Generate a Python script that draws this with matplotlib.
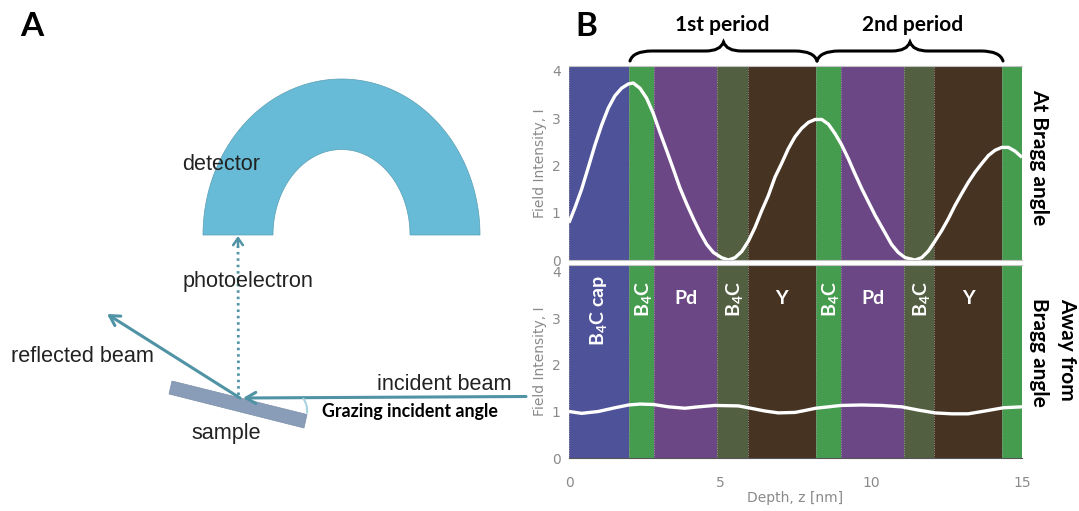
import numpy as np
import matplotlib
matplotlib.use("Agg")
import matplotlib.pyplot as plt
from matplotlib.patches import PathPatch, Polygon, FancyArrowPatch
from matplotlib.path import Path

# ---- data -----------------------------------------------------------
layer_edges = [0, 1.99, 2.81, 4.91, 5.93, 8.17, 9.0, 11.1, 12.1, 14.35, 15]
layer_colors = ["#4E5299", "#459C4F", "#6C4785", "#525F40", "#463322",
                "#459C4F", "#6C4785", "#525F40", "#463322", "#459C4F"]
layer_names = [r"$\mathregular{B_4C}$ cap", r"$\mathregular{B_4C}$", "Pd", r"$\mathregular{B_4C}$", "Y",
               r"$\mathregular{B_4C}$", "Pd", r"$\mathregular{B_4C}$", "Y", ""]

depth_bragg = [0, .2, .42, .64, .86, 1.08, 1.30, 1.52, 1.74, 1.96, 2.13, 2.35, 2.57, 2.79, 3.01, 3.23, 3.45,
               3.67, 3.90, 4.12, 4.34, 4.56, 4.78, 5.05, 5.28, 5.5, 5.72, 5.94, 6.16, 6.38, 6.6, 6.82, 7.04,
               7.26, 7.48, 7.7, 7.93, 8.15, 8.37, 8.59, 8.81, 9.03, 9.25, 9.47, 9.7, 9.92, 10.14, 10.46,
               10.68, 10.9, 11.13, 11.46, 11.68, 11.9, 12.12, 12.34, 12.56, 12.78, 13.0, 13.22, 13.45, 13.67,
               13.89, 14.11, 14.33, 14.55, 14.77, 15.0]
field_bragg = [.79, 1.11, 1.50, 1.96, 2.43, 2.85, 3.21, 3.47, 3.63, 3.72, 3.74, 3.63, 3.42, 3.10, 2.70, 2.32, 1.93,
               1.53, 1.18, .87, .58, .33, .16, .05, 0, .05, .18, .4, .69, 1.04, 1.36, 1.75, 2.04,
               2.35, 2.6, 2.78, 2.91, 2.97, 2.97, 2.87, 2.67, 2.43, 2.14, 1.82, 1.5, 1.22, .94, .58,
               .33, .16, .05, 0, .05, .19, .4, .62, .87, 1.15, 1.40, 1.64, 1.86, 2.04,
               2.21, 2.32, 2.38, 2.38, 2.3, 2.17]

depth_away = [0, .42, .97, 1.52, 1.97, 2.35, 2.8, 3.29, 3.84, 4.28, 4.83, 5.61, 5.94, 6.49, 6.93, 7.48, 7.8,
              8.17, 8.59, 9.0, 9.69, 10.35, 11.02, 11.57, 12.12, 12.67, 13.22, 13.77, 14.38, 15]
field_away = [1.0, .96, 1.0, 1.08, 1.14, 1.16, 1.15, 1.10, 1.07, 1.10, 1.13, 1.12, 1.08, 1.01, .97, .98, 1.02,
              1.07, 1.10, 1.13, 1.14, 1.13, 1.10, 1.03, .97, .95, .95, 1.01, 1.08, 1.10]

x_ticks = [0, 5, 10, 15]
y_ticks = [0, 1, 2, 3, 4]

# ---- figure ---------------------------------------------------------
W, H = 1079, 511
fig = plt.figure(figsize=(W / 100, H / 100), dpi=100)
bg = fig.add_axes([0, 0, 1, 1])
bg.set_xlim(0, W)
bg.set_ylim(H, 0)
bg.axis("off")

ARIAL = "Liberation Sans"
CAL = "Lato"
GREY = "#8a8a8a"
plt.rcParams["mathtext.fontset"] = "custom"
plt.rcParams["mathtext.rm"] = "Lato:bold"
plt.rcParams["mathtext.default"] = "rm"


def panel(top, bottom, ymax, depth, field):
    ax = fig.add_axes([569 / W, 1 - bottom / H, (1022 - 569) / W, (bottom - top) / H])
    for i, c in enumerate(layer_colors):
        ax.axvspan(layer_edges[i], layer_edges[i + 1], color=c, lw=0)
    for e in layer_edges:
        ax.axvline(e, color="#9a9a9a", lw=0.7, ls=(0, (1, 1.5)))
    ax.plot(depth, field, color="white", lw=2.4, solid_joinstyle="round", solid_capstyle="butt")
    ax.set_xlim(0, 15)
    ax.set_ylim(0, ymax)
    ax.set_yticks(y_ticks)
    ax.tick_params(length=0, labelcolor=GREY, labelsize=10, pad=6)
    ax.set_ylabel("Field Intensity, I", color=GREY, fontsize=10)
    ax.yaxis.set_label_coords(-0.048, 0.5)
    for name, s in ax.spines.items():
        s.set_visible(name in ("top", "bottom"))
        s.set_color("#c4c4c4")
    return ax


ax1 = panel(66, 260, 4.1, depth_bragg, field_bragg)
ax1.set_xticks([])
ax2 = panel(265, 458, 4.15, depth_away, field_away)
ax2.set_xticks(x_ticks)
ax2.tick_params(axis="x", pad=13)
ax2.set_xlabel("Depth, z [nm]", color=GREY, fontsize=10, labelpad=1)
ax2.spines["bottom"].set_color("#555555")

for i, name in enumerate(layer_names):
    if not name:
        continue
    mid = (layer_edges[i] + layer_edges[i + 1]) / 2
    if i == 0:
        ypos, rot, off = 3.16, 90, -0.03
    elif "B" in name:
        ypos, rot, off = 3.43, 90, 0.06
    else:
        ypos, rot, off = 3.44, 0, 0
    ax2.text(mid + off, ypos, name, color="white", ha="center", va="center", rotation=rot,
             fontsize=14, family=CAL, weight="bold")

# ---- labels round panel B --------------------------------------------
bg.text(32, 27, "A", fontsize=24, family=CAL, weight="bold", ha="center", va="center", color="black")
bg.text(586, 26, "B", fontsize=24, family=CAL, weight="bold", ha="center", va="center", color="black")
bg.text(722, 25, "1st period", fontsize=15, family=CAL, weight="bold", ha="center", va="center")
bg.text(913, 25, "2nd period", fontsize=15, family=CAL, weight="bold", ha="center", va="center")
bg.text(1039, 157, "At Bragg angle", fontsize=15, family=CAL, weight="bold", rotation=270, ha="center", va="center")
bg.text(1067, 298, "Away from", fontsize=15, family=CAL, weight="bold", rotation=270, ha="center", va="top")
bg.text(1039, 298, "Bragg angle", fontsize=15, family=CAL, weight="bold", rotation=270, ha="center", va="top")


def brace(x0, x1, ytip=42, ymid=51, yend=61):
    xm = (x0 + x1) / 2
    v = [(x0, yend), (x0 + 3, ymid), (x0 + 22, ymid), (xm - 18, ymid), (xm - 3, ymid), (xm, ytip),
         (xm + 3, ymid), (xm + 18, ymid), (x1 - 22, ymid), (x1 - 3, ymid), (x1, yend)]
    c = [Path.MOVETO, Path.CURVE3, Path.CURVE3, Path.LINETO, Path.CURVE3, Path.CURVE3,
         Path.CURVE3, Path.CURVE3, Path.LINETO, Path.CURVE3, Path.CURVE3]
    bg.add_patch(PathPatch(Path(v, c), fc="none", ec="black", lw=2.2, capstyle="round"))


brace(630, 817)
brace(817, 1003)

# ---- panel A schematic ----------------------------------------------
t = np.linspace(np.pi, 0, 160)
cx, cy = 341.5, 235
outer = np.c_[cx + 138.5 * np.cos(t), cy - 156 * np.sin(t)]
inner = np.c_[cx + 68.5 * np.cos(t[::-1]), cy - 85.5 * np.sin(t[::-1])]
bg.add_patch(Polygon(np.r_[outer, inner], closed=True, fc="#67BBD6", ec="#5a9fb5", lw=0.5))

bg.add_patch(Polygon([(172, 381), (169, 394), (304, 428), (307, 414.5)], closed=True, fc="#8A9DB8", ec="#7b8ea9", lw=0.5))

TEAL = "#4F93A5"
bg.add_patch(FancyArrowPatch((240, 398), (107, 314), arrowstyle="->,head_length=7,head_width=4", color=TEAL,
                             lw=2.2, shrinkA=0, shrinkB=0))
bg.add_patch(FancyArrowPatch((526, 396.5), (243, 398), arrowstyle="->,head_length=7,head_width=4", color=TEAL,
                             lw=2.2, shrinkA=0, shrinkB=0))
bg.plot([238.5, 238], [395, 246], color=TEAL, lw=2, ls=(0, (0.9, 1.4)))
bg.add_patch(FancyArrowPatch((238, 246), (238, 236), arrowstyle="->,head_length=5,head_width=3.5", color=TEAL,
                             lw=1.8, shrinkA=0, shrinkB=0))
bg.add_patch(PathPatch(Path([(303, 398), (308, 405), (307, 413.5)], [Path.MOVETO, Path.CURVE3, Path.CURVE3]),
                       fc="none", ec="#A8D3DE", lw=1.5))

for x, y, s in [(221, 165, "detector"), (248, 282, "photoelectron"), (82, 357, "reflected beam"),
                (226, 434, "sample"), (444, 385, "incident beam")]:
    bg.text(x, y, s, fontsize=15.6, family=ARIAL, ha="center", va="center", color="#222222")
bg.text(410, 411, "Grazing incident angle", fontsize=12.8, family=CAL, weight="bold", ha="center", va="center", color="black")

fig.savefig("out.png", dpi=100)
